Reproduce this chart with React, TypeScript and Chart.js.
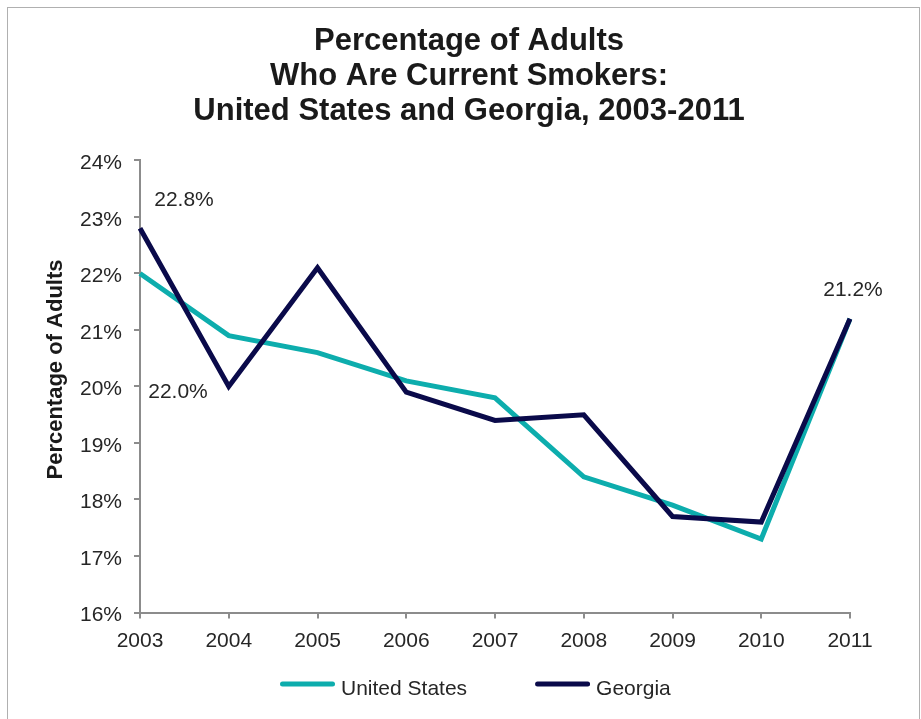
import React, { useEffect, useRef } from "react";
import { Chart, registerables } from "chart.js";

Chart.register(...registerables);

// ---- Data ----
const years = ["2003", "2004", "2005", "2006", "2007", "2008", "2009", "2010", "2011"];
const unitedStates = [22.0, 20.9, 20.6, 20.1, 19.8, 18.4, 17.9, 17.3, 21.2];
const georgia = [22.8, 20.0, 22.1, 19.9, 19.4, 19.5, 17.7, 17.6, 21.2];
const seriesNames = ["United States", "Georgia"];
const titleLines = ["Percentage of Adults", "Who Are Current Smokers:", "United States and Georgia, 2003-2011"];
const yAxisTitle = "Percentage of Adults";
const yMin = 16;
const yMax = 24;
const yStep = 1;

// ---- Style ----
const FONT = "'Liberation Sans', Arial, Helvetica, sans-serif";
const TEAL = "#0DADAD";
const NAVY = "#0A0A4A";
const AXIS = "#8c8c8c";
const TEXT = "#262626";
const TITLE = "#1a1a1a";

// labels drawn next to selected points: which series/index and pixel offset
const pointLabelSpecs = [
  { series: 1, index: 0, dx: 44, dy: -28 },
  { series: 0, index: 0, dx: 38, dy: 119 },
  { series: 1, index: 8, dx: 3, dy: -28 },
];

const pointLabelPlugin = {
  id: "pointLabelPlugin",
  afterDatasetsDraw(chart: any) {
    const ctx = chart.ctx;
    ctx.save();
    ctx.font = `21px ${FONT}`;
    ctx.fillStyle = TEXT;
    ctx.textAlign = "center";
    ctx.textBaseline = "middle";
    for (const s of pointLabelSpecs) {
      const meta = chart.getDatasetMeta(s.series);
      const pt = meta.data[s.index];
      const v = chart.data.datasets[s.series].data[s.index] as number;
      ctx.fillText(v.toFixed(1) + "%", pt.x + s.dx, pt.y + s.dy);
    }
    ctx.restore();
  },
};

const yTitlePlugin = {
  id: "yTitlePlugin",
  afterDraw(chart: any) {
    const { ctx, chartArea } = chart;
    ctx.save();
    ctx.translate(chartArea.left - 84, (chartArea.top + chartArea.bottom) / 2 - 17);
    ctx.rotate(-Math.PI / 2);
    ctx.font = `bold 22px ${FONT}`;
    ctx.fillStyle = TITLE;
    ctx.textAlign = "center";
    ctx.textBaseline = "middle";
    ctx.fillText(yAxisTitle, 0, 0);
    ctx.restore();
  },
};

// shift the title block so it is centred like the reference
const titleShiftPlugin = {
  id: "titleShift",
  afterLayout(chart: any) {
    if (chart.titleBlock) {
      chart.titleBlock.left += 48;
    }
  },
};

const legendPlugin = {
  id: "customLegend",
  afterDraw(chart: any) {
    const { ctx, chartArea } = chart;
    ctx.save();
    ctx.font = `21px ${FONT}`;
    ctx.textBaseline = "middle";
    ctx.textAlign = "left";
    let x = chartArea.left + 140;
    const lineY = chartArea.bottom + 71.5;
    const textY = chartArea.bottom + 77;
    chart.data.datasets.forEach((ds: any) => {
      ctx.strokeStyle = ds.borderColor;
      ctx.lineWidth = 5;
      ctx.lineCap = "round";
      ctx.beginPath();
      ctx.moveTo(x + 2.5, lineY);
      ctx.lineTo(x + 52.5, lineY);
      ctx.stroke();
      ctx.fillStyle = TEXT;
      ctx.fillText(ds.label, x + 61, textY);
      x += 61 + ctx.measureText(ds.label).width + 68;
    });
    ctx.restore();
  },
};

export default function App() {
  const canvasRef = useRef<HTMLCanvasElement | null>(null);

  useEffect(() => {
    if (!canvasRef.current) return;
    const chart = new Chart(canvasRef.current, {
      type: "line",
      data: {
        labels: years,
        datasets: [
          {
            label: seriesNames[0],
            data: unitedStates,
            borderColor: TEAL,
            backgroundColor: TEAL,
            borderWidth: 5,
            pointRadius: 0,
            tension: 0,
            fill: false,
            order: 1,
          },
          {
            label: seriesNames[1],
            data: georgia,
            borderColor: NAVY,
            backgroundColor: NAVY,
            borderWidth: 5,
            pointRadius: 0,
            tension: 0,
            fill: false,
            order: 0,
          },
        ],
      },
      options: {
        responsive: false,
        animation: false,
        devicePixelRatio: 1,
        events: [],
        layout: { padding: { left: 40, right: 71, top: 0, bottom: 60 } },
        plugins: {
          legend: { display: false },
          tooltip: { enabled: false },
          title: {
            display: true,
            text: titleLines,
            color: TITLE,
            font: { family: FONT, size: 31, weight: "bold", lineHeight: 1.129 },
            padding: { top: 24, bottom: 31.5 },
          },
        },
        scales: {
          x: {
            type: "category",
            offset: false,
            grid: { display: true, drawOnChartArea: false, drawTicks: true, tickLength: 6, color: AXIS, lineWidth: 2 },
            border: { display: true, color: AXIS, width: 2 },
            ticks: { color: TEXT, font: { family: FONT, size: 21 }, padding: 10, maxRotation: 0, autoSkip: false },
            afterFit: (scale: any) => {
              scale.height = 46.5;
            },
          },
          y: {
            min: yMin,
            max: yMax,
            grid: { display: true, drawOnChartArea: false, drawTicks: true, tickLength: 6, color: AXIS, lineWidth: 2 },
            border: { display: true, color: AXIS, width: 2 },
            ticks: {
              stepSize: yStep,
              color: TEXT,
              font: { family: FONT, size: 21 },
              padding: 12,
              labelOffset: 3,
              callback: (v: any) => `${v}%`,
            },
            afterFit: (scale: any) => {
              scale.width = 100;
            },
          },
        },
      },
      plugins: [titleShiftPlugin, pointLabelPlugin, yTitlePlugin, legendPlugin],
    } as any);
    return () => chart.destroy();
  }, []);

  return (
    <div style={{ position: "fixed", left: 0, top: 0, width: 921, height: 719, background: "#fff", overflow: "hidden" }}>
      <div
        style={{
          position: "absolute",
          left: 7,
          top: 7,
          width: 911,
          height: 730,
          borderLeft: "1px solid #b0b0b0",
          borderTop: "1px solid #b0b0b0",
          borderRight: "1px solid #b0b0b0",
        }}
      />
      <canvas ref={canvasRef} width={921} height={719} style={{ position: "absolute", left: 0, top: 0, width: 921, height: 719 }} />
    </div>
  );
}
